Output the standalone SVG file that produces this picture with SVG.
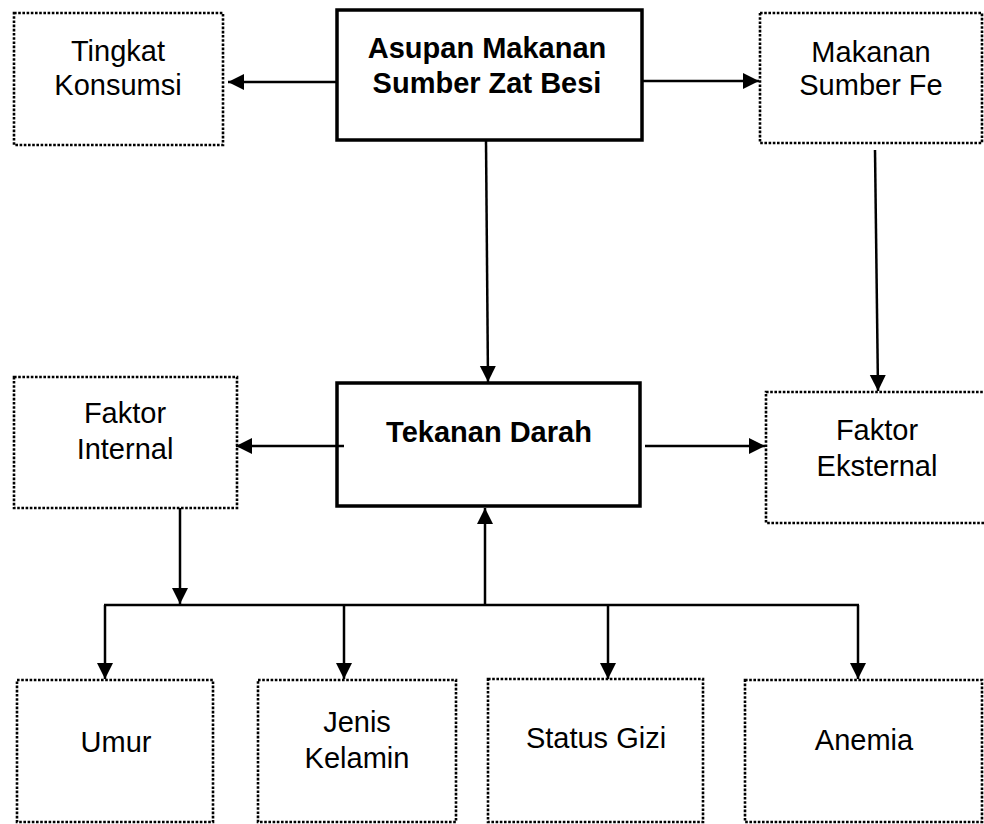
<svg xmlns="http://www.w3.org/2000/svg" width="984" height="824" viewBox="0 0 984 824">
<style>
.dot{fill:#fff;stroke:#000;stroke-width:2.6;stroke-dasharray:2.6 1.6}
.main{fill:#fff;stroke:#000;stroke-width:3.5}
.t{font-family:"Liberation Sans",Arial,sans-serif;font-size:29px;text-anchor:middle;fill:#000}
.b{font-weight:bold}
.c line{stroke:#000;stroke-width:2.5;fill:none}
.a{marker-end:url(#ah)}
</style>
<defs>
<marker id="ah" markerUnits="userSpaceOnUse" markerWidth="18" markerHeight="18" refX="16" refY="8" orient="auto">
<path d="M0,0 L16,8 L0,16 z" fill="#000"/>
</marker>
</defs>
<rect width="984" height="824" fill="#fff"/>
<g id="tingkat">
<rect class="dot" x="14" y="13" width="209" height="132"/>
<text class="t" x="118" y="61">Tingkat</text>
<text class="t" x="118" y="95">Konsumsi</text>
</g>
<g id="asupan">
<rect class="main" x="337" y="10" width="305" height="130"/>
<text class="t b" x="487" y="58">Asupan Makanan</text>
<text class="t b" x="487" y="93">Sumber Zat Besi</text>
</g>
<g id="makanan">
<rect class="dot" x="760" y="13" width="222" height="130"/>
<text class="t" x="871" y="62">Makanan</text>
<text class="t" x="871" y="95">Sumber Fe</text>
</g>
<g id="internal">
<rect class="dot" x="14" y="377" width="223" height="131"/>
<text class="t" x="125" y="423">Faktor</text>
<text class="t" x="125" y="459">Internal</text>
</g>
<g id="tekanan">
<rect class="main" x="337" y="383" width="303" height="123"/>
<text class="t b" x="489" y="442">Tekanan Darah</text>
</g>
<g id="eksternal">
<rect class="dot" x="766" y="392" width="222" height="131"/>
<text class="t" x="877" y="440">Faktor</text>
<text class="t" x="877" y="476">Eksternal</text>
</g>
<g id="umur">
<rect class="dot" x="17" y="680" width="196" height="142"/>
<text class="t" x="116" y="752">Umur</text>
</g>
<g id="jenis">
<rect class="dot" x="258" y="680" width="198" height="142"/>
<text class="t" x="357" y="732">Jenis</text>
<text class="t" x="357" y="768">Kelamin</text>
</g>
<g id="status">
<rect class="dot" x="488" y="679" width="215" height="143"/>
<text class="t" x="596" y="748">Status Gizi</text>
</g>
<g id="anemia">
<rect class="dot" x="745" y="680" width="237" height="142"/>
<text class="t" x="864" y="750">Anemia</text>
</g>
<g id="connectors" class="c">
<line class="a" x1="337" y1="82" x2="228" y2="82"/>
<line class="a" x1="642" y1="81" x2="759" y2="81"/>
<line class="a" x1="486" y1="141" x2="488" y2="382"/>
<line class="a" x1="875" y1="150" x2="878" y2="391"/>
<line class="a" x1="344" y1="446" x2="236" y2="446"/>
<line class="a" x1="645" y1="446" x2="765" y2="446"/>
<line class="a" x1="180" y1="508" x2="180" y2="604"/>
<line x1="104" y1="605" x2="859" y2="605"/>
<line class="a" x1="485" y1="605" x2="485" y2="508"/>
<line class="a" x1="105" y1="605" x2="105" y2="679"/>
<line class="a" x1="344" y1="605" x2="344" y2="679"/>
<line class="a" x1="608" y1="605" x2="608" y2="679"/>
<line class="a" x1="858" y1="605" x2="858" y2="679"/>
</g>
</svg>
